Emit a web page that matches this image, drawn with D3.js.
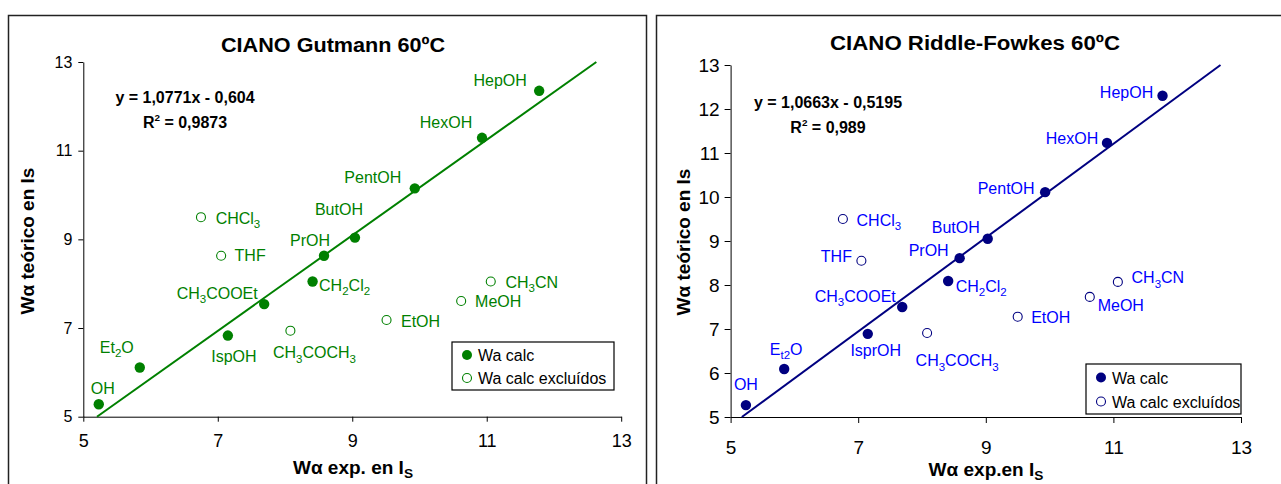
<!DOCTYPE html>
<html><head><meta charset="utf-8">
<script src="https://cdn.jsdelivr.net/npm/d3@7"></script>
<style>
body{margin:0;background:#fff;}
text{font-family:"Liberation Sans",Arial,Helvetica,sans-serif;}
</style>
</head><body>
<script>
// ---------- DATA ----------
const xTicks = [5, 7, 9, 11, 13];
const yTicksLeft = [5, 7, 9, 11, 13];
const yTicksRight = [5, 6, 7, 8, 9, 10, 11, 12, 13];

// Left: CIANO Gutmann 60ºC
const leftCalcNames = ["OH", "Et{2}O", "IspOH", "CH{3}COOEt", "CH{2}Cl{2}", "PrOH", "ButOH", "PentOH", "HexOH", "HepOH"];
const leftCalcX = [5.23, 5.84, 7.15, 7.69, 8.41, 8.58, 9.04, 9.93, 10.93, 11.78];
const leftCalcY = [5.28, 6.11, 6.83, 7.54, 8.05, 8.63, 9.04, 10.15, 11.29, 12.35];
const leftExclNames = ["CHCl{3}", "THF", "CH{3}COCH{3}", "EtOH", "MeOH", "CH{3}CN"];
const leftExclX = [6.75, 7.05, 8.08, 9.51, 10.62, 11.06];
const leftExclY = [9.50, 8.63, 6.94, 7.18, 7.61, 8.05];
const leftFit = {slope: 1.0771, intercept: -0.604};
const leftEq = ["y = 1,0771x - 0,604", "R^{2} = 0,9873"];

// Right: CIANO Riddle-Fowkes 60ºC
const rightCalcNames = ["OH", "E{t2}O", "IsprOH", "CH{3}COOEt", "CH{2}Cl{2}", "PrOH", "ButOH", "PentOH", "HexOH", "HepOH"];
const rightCalcX = [5.24, 5.84, 7.15, 7.69, 8.41, 8.59, 9.03, 9.93, 10.90, 11.77];
const rightCalcY = [5.27, 6.09, 6.89, 7.50, 8.09, 8.61, 9.05, 10.11, 11.23, 12.30];
const rightExclNames = ["CHCl{3}", "THF", "CH{3}COCH{3}", "EtOH", "MeOH", "CH{3}CN"];
const rightExclX = [6.76, 7.05, 8.08, 9.50, 10.63, 11.07];
const rightExclY = [9.50, 8.55, 6.91, 7.28, 7.73, 8.07];
const rightFit = {slope: 1.0663, intercept: -0.5195};
const rightEq = ["y = 1,0663x - 0,5195", "R^{2} = 0,989"];

const legendLabels = ["Wa calc", "Wa calc excluídos"];

// ---------- LABEL OFFSETS (px, from point to label centre) ----------
const leftCalcOff = [[4,-16],[-23,-20],[6,21],[-47,-11],[32,4],[-14,-15],[-16,-28],[-42,-11],[-36,-15],[-39,-10]];
const leftExclOff = [[37,1],[29,0],[24,22],[34,1],[37,1],[41,1]];
const rightCalcOff = [[0,-21],[2,-20],[8,17],[-47,-11],[33,5],[-31,-8],[-32,-11],[-39,-4],[-35,-4],[-36,-3]];
const rightExclOff = [[36,1],[-25,-4],[30,28],[33,1],[31,9],[40,-4]];

// ---------- DRAW ----------
const W = 1281, H = 484;
const svg = d3.select("body").append("svg").attr("width", W).attr("height", H);

function rich(textSel, str, fs, subShift) {
  // {..} = subscript, ^{..} = superscript
  const re = /(\^?\{[^}]*\})|([^{^]+)/g;
  let m, shift = 0;
  const ss = subShift === undefined ? 0.28 : subShift;
  while ((m = re.exec(str)) !== null) {
    if (m[1]) {
      const sup = m[1][0] === "^";
      const t = m[1].replace(/^\^?\{/, "").replace(/\}$/, "");
      const target = sup ? -0.45 * fs : ss * fs;
      textSel.append("tspan").attr("font-size", (sup ? 0.62 : 0.72) * fs)
        .attr("dy", target - shift).text(t);
      shift = target;
    } else {
      textSel.append("tspan").attr("dy", -shift).text(m[2]);
      shift = 0;
    }
  }
}

function drawChart(c) {
  const g = svg.append("g");
  // panel frame
  g.append("rect").attr("x", c.frame[0]).attr("y", c.frame[1])
    .attr("width", c.frame[2]).attr("height", c.frame[3])
    .attr("fill", "none").attr("stroke", "#222").attr("stroke-width", 1.5);

  const x = d3.scaleLinear().domain([5, 13]).range([c.px0, c.px1]);
  const y = d3.scaleLinear().domain([5, 13]).range([c.py1, c.py0]);

  // axes
  const xa = g.append("g").attr("transform", `translate(0,${c.py1})`)
    .call(d3.axisBottom(x).tickValues(xTicks).tickSize(c.tick).tickSizeOuter(0).tickPadding(c.xPad));
  const ya = g.append("g").attr("transform", `translate(${c.px0},0)`)
    .call(d3.axisLeft(y).tickValues(c.yTicks).tickSize(c.tick).tickSizeOuter(0).tickPadding(c.yPad));
  [xa, ya].forEach(a => {
    a.select(".domain").attr("stroke", "#000").attr("stroke-width", 1);
    a.selectAll(".tick line").attr("stroke", "#000");
    a.selectAll(".tick text").attr("fill", "#000")
      .attr("font-family", '"Liberation Sans",Arial,sans-serif');
  });
  xa.selectAll(".tick text").attr("font-size", c.xTickFs);
  ya.selectAll(".tick text").attr("font-size", c.yTickFs);

  // title
  g.append("text").attr("x", c.titleX).attr("y", c.titleY).attr("text-anchor", "middle")
    .attr("font-size", 20).attr("font-weight", "bold")
    .attr("textLength", c.titleLen).attr("lengthAdjust", "spacingAndGlyphs").text(c.title);

  // axis titles
  const xt = g.append("text").attr("x", c.xTitleX).attr("y", c.xTitleY).attr("text-anchor", "middle")
    .attr("font-size", 19).attr("font-weight", "bold");
  rich(xt, "Wα " + c.xTitle + "I{S}", 19, 0.2);
  const yt = g.append("text").attr("transform", `translate(${c.yTitleX},${c.yTitleY}) rotate(-90)`)
    .attr("text-anchor", "middle").attr("font-size", 19).attr("font-weight", "bold");
  yt.text("Wα teórico en Is");

  // trend line
  const fx = v => (v - c.fit.intercept) / c.fit.slope;
  const xs = Math.max(5, fx(5)), xe = Math.min(13, fx(13));
  g.append("line").attr("x1", x(xs)).attr("y1", y(c.fit.slope * xs + c.fit.intercept))
    .attr("x2", x(xe)).attr("y2", y(c.fit.slope * xe + c.fit.intercept))
    .attr("stroke", c.lineColor).attr("stroke-width", 2);

  // points
  c.calcX.forEach((v, i) => {
    g.append("circle").attr("cx", x(v)).attr("cy", y(c.calcY[i])).attr("r", 5.2).attr("fill", c.markColor);
  });
  c.exclX.forEach((v, i) => {
    g.append("circle").attr("cx", x(v)).attr("cy", y(c.exclY[i])).attr("r", 4.5)
      .attr("fill", "#fff").attr("stroke", c.markColor).attr("stroke-width", 1.1);
  });

  // labels
  const lab = (names, xsArr, ysArr, offs) => names.forEach((n, i) => {
    const t = g.append("text").attr("x", x(xsArr[i]) + offs[i][0]).attr("y", y(ysArr[i]) + offs[i][1] + 5.5)
      .attr("text-anchor", "middle").attr("font-size", c.labFs).attr("fill", c.labColor);
    rich(t, n, c.labFs);
  });
  lab(c.calcNames, c.calcX, c.calcY, c.calcOff);
  lab(c.exclNames, c.exclX, c.exclY, c.exclOff);

  // equation
  c.eq.forEach((s, i) => {
    const t = g.append("text").attr("x", c.eqX).attr("y", c.eqY + i * 25).attr("text-anchor", "middle")
      .attr("font-size", 16).attr("font-weight", "bold").attr("fill", "#000");
    rich(t, s, 16);
  });

  // legend
  const L = c.legend;
  g.append("rect").attr("x", L[0]).attr("y", L[1]).attr("width", L[2]).attr("height", L[3])
    .attr("fill", "#fff").attr("stroke", "#000").attr("stroke-width", 1.2);
  legendLabels.forEach((s, i) => {
    const cy = L[1] + L[3] * (i === 0 ? 0.27 : 0.75);
    if (i === 0) g.append("circle").attr("cx", L[0] + 15).attr("cy", cy).attr("r", 5).attr("fill", c.markColor);
    else g.append("circle").attr("cx", L[0] + 15).attr("cy", cy).attr("r", 4.5).attr("fill", "#fff")
      .attr("stroke", c.markColor).attr("stroke-width", 1.1);
    g.append("text").attr("x", L[0] + 26).attr("y", cy + 6).attr("font-size", 16).attr("fill", "#000").text(s);
  });
}

drawChart({
  frame: [8.5, 15.5, 638, 480], px0: 83.3, px1: 621.2, py0: 62, py1: 416.7,
  yTicks: yTicksLeft, tick: 5, xTickFs: 18, yTickFs: 16, xPad: 13, yPad: 6,
  title: "CIANO Gutmann 60ºC", titleX: 333, titleY: 52, titleLen: 224,
  xTitle: "exp. en ", xTitleX: 353, xTitleY: 474, yTitleX: 34, yTitleY: 241,
  fit: leftFit, lineColor: "#008000", markColor: "#008000", labColor: "#008000", labFs: 16,
  calcNames: leftCalcNames, calcX: leftCalcX, calcY: leftCalcY, calcOff: leftCalcOff,
  exclNames: leftExclNames, exclX: leftExclX, exclY: leftExclY, exclOff: leftExclOff,
  eq: leftEq, eqX: 185, eqY: 103, legend: [452, 342, 162, 48]
});

drawChart({
  frame: [656.5, 15.5, 640, 480], px0: 730.6, px1: 1241, py0: 65, py1: 417,
  yTicks: yTicksRight, tick: 6, xTickFs: 19, yTickFs: 19, xPad: 18, yPad: 5,
  title: "CIANO Riddle-Fowkes 60ºC", titleX: 975, titleY: 50, titleLen: 290,
  xTitle: "exp.en ", xTitleX: 986, xTitleY: 476, yTitleX: 690, yTitleY: 242,
  fit: rightFit, lineColor: "#000080", markColor: "#000080", labColor: "#0000ff", labFs: 16,
  calcNames: rightCalcNames, calcX: rightCalcX, calcY: rightCalcY, calcOff: rightCalcOff,
  exclNames: rightExclNames, exclX: rightExclX, exclY: rightExclY, exclOff: rightExclOff,
  eq: rightEq, eqX: 828, eqY: 108, legend: [1086, 364, 155, 50]
});
</script>
</body></html>
